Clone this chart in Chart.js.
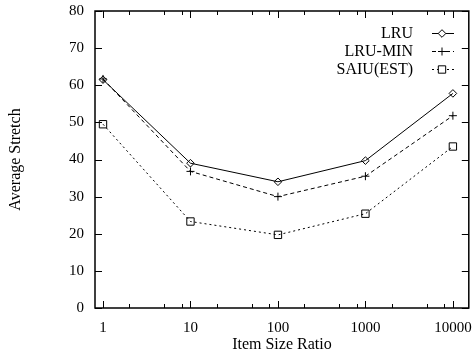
<!DOCTYPE html>
<html>
<head>
<meta charset="utf-8">
<title>Average Stretch vs Item Size Ratio</title>
<script src="https://cdn.jsdelivr.net/npm/chart.js@4/dist/chart.umd.min.js"></script>
<style>
  html, body { margin: 0; padding: 0; background: #fff; }
  canvas { display: block; }
</style>
</head>
<body>
<canvas id="stretchChart" width="475" height="352"></canvas>
<script>
/* ---------- Data ---------- */
const itemSizeRatios = [1, 10, 100, 1000, 10000];
const lruValues      = [61.5, 39.0, 34.0, 39.7, 57.8];
const lruMinValues   = [61.7, 36.8, 30.0, 35.5, 51.8];
const saiuValues     = [49.5, 23.3, 19.7, 25.4, 43.5];

const seriesNames = ['LRU', 'LRU-MIN', 'SAIU(EST)'];
const xMajorTicks = [1, 10, 100, 1000, 10000];
const xMinorSteps = [2, 5, 8];
const yTicks      = [0, 10, 20, 30, 40, 50, 60, 70, 80];

const FONT = "'Liberation Serif', 'Times New Roman', serif";

const toPoints = (vals) => vals.map((v, i) => ({ x: itemSizeRatios[i], y: v }));

/* ---------- Frame + inward ticks (gnuplot style) ---------- */
const framePlugin = {
  id: 'frame',
  afterDraw(chart) {
    const { ctx, chartArea: a, scales } = chart;
    ctx.save();
    ctx.strokeStyle = '#000';
    ctx.lineWidth = 1;
    ctx.beginPath();
    const tick = (x1, y1, x2, y2) => { ctx.moveTo(x1, y1); ctx.lineTo(x2, y2); };

    xMajorTicks.forEach(v => {
      const x = Math.round(scales.x.getPixelForValue(v)) + 0.5;
      tick(x, a.bottom, x, a.bottom - 7);
      tick(x, a.top, x, a.top + 7);
      xMinorSteps.forEach(m => {
        const mv = v * m;
        if (mv > scales.x.max) return;
        const mx = Math.round(scales.x.getPixelForValue(mv)) + 0.5;
        tick(mx, a.bottom, mx, a.bottom - 4);
        tick(mx, a.top, mx, a.top + 4);
      });
    });
    yTicks.forEach(v => {
      const y = Math.round(scales.y.getPixelForValue(v)) + 0.5;
      tick(a.left, y, a.left + 7, y);
      tick(a.right, y, a.right - 7, y);
    });
    ctx.stroke();

    ctx.lineWidth = 1.5;
    ctx.strokeRect(a.left, a.top, a.right - a.left, a.bottom - a.top);
    ctx.restore();
  }
};

/* ---------- Key: text on the left, sample on the right ---------- */
const keyPlugin = {
  id: 'key',
  afterDraw(chart) {
    const { ctx } = chart;
    ctx.save();
    ctx.font = '16px ' + FONT;
    ctx.textAlign = 'right';
    ctx.textBaseline = 'middle';
    chart.data.datasets.forEach((ds, i) => {
      const y = 33 + i * 18;
      ctx.fillStyle = '#000';
      ctx.fillText(ds.label, 413, y + 1);
      ctx.strokeStyle = '#000';
      ctx.lineWidth = 1;
      ctx.setLineDash(ds.borderDash || []);
      ctx.beginPath();
      ctx.moveTo(432, y + 0.5);
      ctx.lineTo(454, y + 0.5);
      ctx.stroke();
      ctx.setLineDash([]);
      ctx.fillStyle = '#fff';
      Chart.helpers.drawPoint(ctx, {
        pointStyle: ds.pointStyle,
        radius: ds.pointRadius,
        borderWidth: 1
      }, 442, y + 0.5);
    });
    ctx.restore();
  }
};

new Chart(document.getElementById('stretchChart'), {
  type: 'line',
  data: {
    datasets: [
      {
        label: seriesNames[0],
        data: toPoints(lruValues),
        borderColor: '#000',
        borderWidth: 1,
        pointStyle: 'rectRot',
        pointRadius: 3.8,
        pointBorderColor: '#000',
        pointBackgroundColor: 'rgba(0,0,0,0)',
        pointBorderWidth: 1
      },
      {
        label: seriesNames[1],
        data: toPoints(lruMinValues),
        borderColor: '#000',
        borderWidth: 1,
        borderDash: [4, 3],
        pointStyle: 'cross',
        pointRadius: 4,
        pointBorderColor: '#000',
        pointBorderWidth: 1
      },
      {
        label: seriesNames[2],
        data: toPoints(saiuValues),
        borderColor: '#000',
        borderWidth: 1,
        borderDash: [2, 3],
        pointStyle: 'rect',
        pointRadius: 5.2,
        pointBorderColor: '#000',
        pointBackgroundColor: 'rgba(0,0,0,0)',
        pointBorderWidth: 1
      }
    ]
  },
  options: {
    responsive: false,
    animation: false,
    devicePixelRatio: 1,
    layout: { padding: { top: 11, right: 5, left: 0, bottom: 0 } },
    plugins: {
      legend: { display: false },
      tooltip: { enabled: false }
    },
    scales: {
      x: {
        type: 'logarithmic',
        min: 0.81,
        max: 15200,
        grid: { display: false, drawTicks: false },
        border: { display: false },
        afterBuildTicks: (scale) => {
          scale.ticks = xMajorTicks.map(v => ({ value: v, major: true }));
        },
        afterFit: (scale) => {
          scale.height = 44;
          // labels may overhang the frame; don't let that shrink the plot
          scale.paddingLeft = 0;
          scale.paddingRight = 0;
        },
        ticks: {
          autoSkip: false,
          maxRotation: 0,
          padding: 11,
          color: '#000',
          font: { family: FONT, size: 15 },
          callback: (v) => String(v)
        },
        title: {
          display: true,
          text: 'Item Size Ratio',
          color: '#000',
          font: { family: FONT, size: 16 },
          padding: { top: 0, bottom: -2 }
        }
      },
      y: {
        min: 0,
        max: 80,
        grid: { display: false, drawTicks: false },
        border: { display: false },
        afterBuildTicks: (scale) => {
          scale.ticks = yTicks.map(v => ({ value: v }));
        },
        afterFit: (scale) => {
          scale.width = 95;
          scale.paddingTop = 0;
          scale.paddingBottom = 0;
        },
        ticks: {
          padding: 11,
          color: '#000',
          font: { family: FONT, size: 15 }
        },
        title: {
          display: true,
          text: 'Average Stretch',
          color: '#000',
          font: { family: FONT, size: 16 },
          padding: { top: 6, bottom: 0 }
        }
      }
    }
  },
  plugins: [framePlugin, keyPlugin]
});
</script>
</body>
</html>
